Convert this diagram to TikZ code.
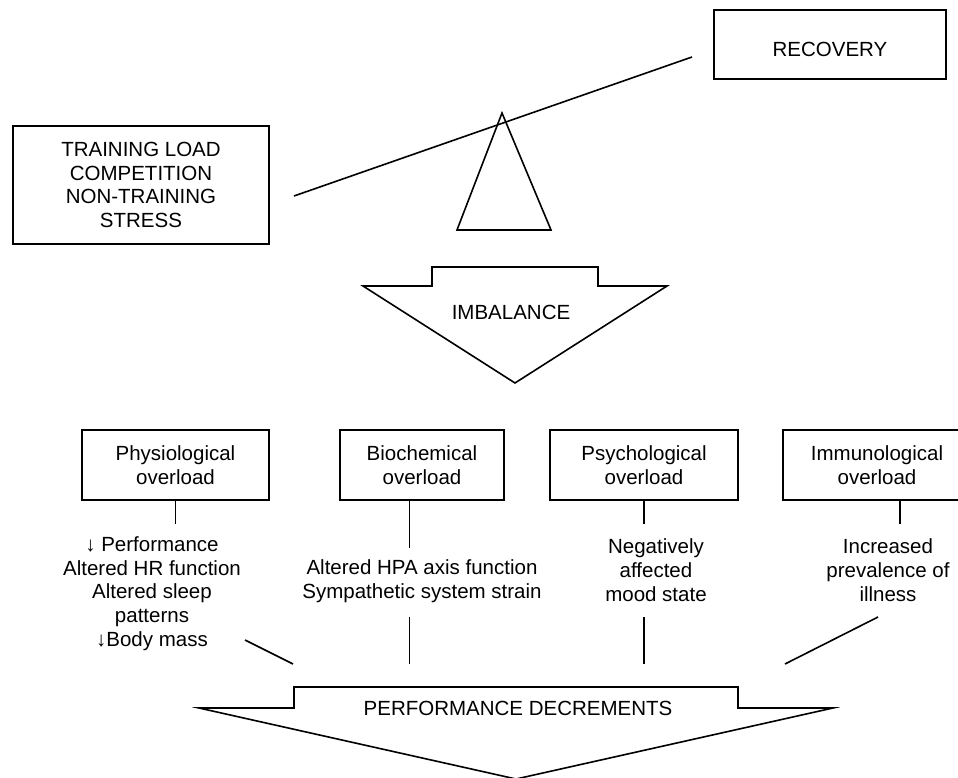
\documentclass[tikz,border=0pt]{standalone}
\usepackage{fontspec}
\setmainfont{Liberation Sans}
\usetikzlibrary{positioning, calc}
\tikzset{%
  box/.style={draw, rectangle, align=center, inner sep=0pt}, % the framed boxes
  ovl/.style={box, minimum height=70pt},
  txt/.style={align=center, inner sep=0pt},
  bigarrow/.style={draw, fill=white, line join=miter}
}

\begin{document}
\begin{tikzpicture}[x=1pt, y=-1pt, line width=1.6pt, font=\fontsize{20.5}{23.7}\selectfont]
\path[use as bounding box, clip] (0,0) rectangle (958,778);

% the balance
\node[box, minimum width=256pt, minimum height=118pt] (load) at (141,185) {TRAINING LOAD\\COMPETITION\\NON-TRAINING\\STRESS};
\node[box, minimum width=232pt, minimum height=69pt] (rec) at (830,44.5) {\mbox{}\\RECOVERY};
\coordinate (beamL) at (294,196);
\coordinate (beamR) at (692,57);
\draw (beamL) -- (beamR);
\coordinate (apex) at (502,113);
\coordinate (baseL) at (457,230);
\coordinate (baseR) at (551,230);
\draw[line join=miter] (apex) -- (baseR) -- (baseL) -- cycle;

\draw[bigarrow] (432,267) -- (598,267) -- (598,286) -- (667,286) -- (515,383) -- (363,286) -- (432,286) -- cycle;
\node (imb) at (511,312) {IMBALANCE};

% overload boxes
\node[ovl, minimum width=187pt] (phy) at (175.5,465) {Physiological\\overload};
\node[ovl, minimum width=164pt] (bio) at (422,465) {Biochemical\\overload};
\node[ovl, minimum width=188pt] (psy) at (644,465) {Psychological\\overload};
\node[ovl, minimum width=188pt] (imm) at (877,465) {Immunological\\overload};

\coordinate (phyE) at (175.5,524);
\coordinate (bioE) at (409.5,548);
\coordinate (psyE) at (644,524);
\coordinate (immE) at (900,524);
\draw (phy.south) -- (phyE);
\draw (bio.south -| bioE) -- (bioE);
\draw (psy.south) -- (psyE);
\draw (imm.south -| immE) -- (immE);

% effects
\node[txt] (phyT) at (152,593.5) {↓ Performance\\Altered HR function\\Altered sleep\\patterns\\↓Body mass};
\node[txt] (bioT) at (422,581) {Altered HPA axis function\\Sympathetic system strain};
\node[txt] (psyT) at (656,570) {Negatively\\affected\\mood state};
\node[txt] (immT) at (888,570) {Increased\\prevalence of\\illness};

\coordinate (phyA) at (245,640);
\coordinate (phyB) at (293,664);
\coordinate (bioA) at (409.5,617);
\coordinate (bioB) at (409.5,664);
\coordinate (psyA) at (644,617);
\coordinate (psyB) at (644,664);
\coordinate (immA) at (878,617);
\coordinate (immB) at (785,664);
\draw (phyA) -- (phyB);
\draw (bioA) -- (bioB);
\draw (psyA) -- (psyB);
\draw (immA) -- (immB);

\draw[bigarrow] (294,687) -- (738,687) -- (738,708) -- (833,708) -- (516,779) -- (199,708) -- (294,708) -- cycle;
\node (perf) at (518,708) {PERFORMANCE DECREMENTS};
\end{tikzpicture}
\end{document}
